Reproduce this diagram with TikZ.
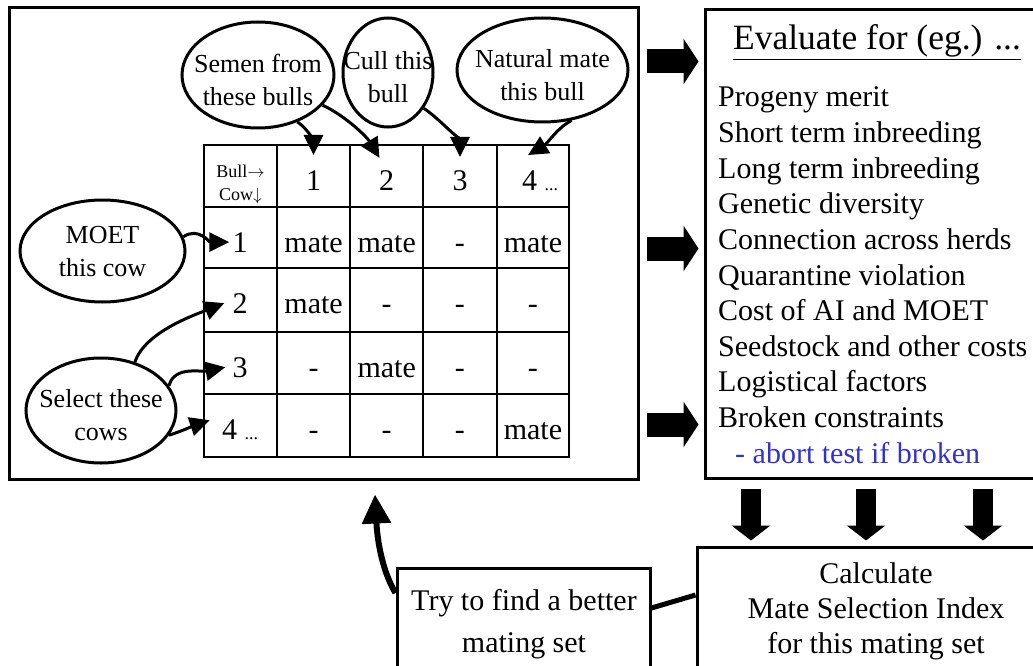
\documentclass[tikz,border=0pt]{standalone}
\usepackage{fontspec}
\setmainfont{Liberation Serif}
\usetikzlibrary{shapes.geometric,arrows.meta,calc}
\definecolor{abortblue}{RGB}{50,50,210}
\newcommand{\bodyfont}{\fontsize{30}{35}\selectfont}
\newcommand{\bubblefont}{\fontsize{26}{33}\selectfont}
\newcommand{\headfont}{\fontsize{18}{23}\selectfont}
\newcommand{\more}{\ {\headfont...}}
\tikzset{
  box/.style={draw,line width=3pt,inner sep=0pt},
  bubble/.style={ellipse,draw,line width=3pt,inner xsep=-16pt,inner ysep=0pt,text height=61pt,align=center,font=\bubblefont},
  pointer/.style={line width=3pt,-{Triangle[length=20pt,width=19pt]}},
  fatright/.style={line width=24pt,-{Triangle[length=15pt,width=45pt]}},
  fatdown/.style={line width=20pt,-{Triangle[length=15pt,width=38pt]}},
  cell/.style={anchor=base,font=\bodyfont,inner sep=0pt},
}
\begin{document}
\begin{tikzpicture}[x=1pt,y=-1pt]
  \useasboundingbox (0,0) rectangle (1033,666);
  \clip (0,0) rectangle (1033,666);
  % boxes
  \node[box,minimum width=629pt,minimum height=471pt] (mainbox) at (323.5,243.5) {};
  \node[box,minimum width=340pt,minimum height=468pt] (evalbox) at (875,244) {};
  \node[box,minimum width=348pt,minimum height=153pt] (calcbox) at (871,623.5) {};
  \node[box,minimum width=253pt,minimum height=132pt] (trybox) at (523.5,634) {};
  % mating table
  \foreach \x in {204,277,350,423,497,569}
    \draw[line width=2.5pt,line cap=rect] (\x,145) -- (\x,457);
  \foreach \y in {145,207,268,332,394,457}
    \draw[line width=2.5pt,line cap=rect] (204,\y) -- (569,\y);
  \node[font=\headfont,align=center,inner sep=0pt] (corner) at (240.5,184) {Bull$\rightarrow$\\Cow$\downarrow$};
  \foreach \t/\x [count=\c] in {1/313.5,2/386.5,3/460,4\more/540}
    \node[cell] (h\c) at (\x,190) {\t};
  \foreach \t/\y [count=\r] in {1/252,2/313,3/377,4\more/439}
    \node[cell] (r\r) at (240,\y) {\t};
  \foreach \t [count=\c] in {mate,mate,-,mate}
    \node[cell] (m1\c) at (240.5+73.1*\c,252) {\t};
  \foreach \t [count=\c] in {mate,-,-,-}
    \node[cell] (m2\c) at (240.5+73.1*\c,313) {\t};
  \foreach \t [count=\c] in {-,mate,-,-}
    \node[cell] (m3\c) at (240.5+73.1*\c,377) {\t};
  \foreach \t [count=\c] in {-,-,-,mate}
    \node[cell] (m4\c) at (240.5+73.1*\c,439) {\t};
  % callouts
  \node[bubble,minimum width=152pt,minimum height=106pt] (semen) at (258,75) {Semen from\\these bulls};
  \node[bubble,minimum width=90pt,minimum height=109pt] (cull) at (388,72.5) {Cull this\\bull};
  \node[bubble,minimum width=171pt,minimum height=104pt] (natmate) at (542.5,70) {Natural mate\\this bull};
  \node[bubble,text height=51pt,minimum width=165pt,minimum height=102pt] (moet) at (102.5,251) {MOET\\this cow};
  \node[bubble,minimum width=150pt,minimum height=105pt] (select) at (101,410.5) {Select these\\cows};
  \draw[pointer] (semen.-50) .. controls +(12,8) and +(0,-12) .. ([yshift=15pt]h1.north);
  \draw[pointer] (semen.-25) .. controls +(25,12) and +(-12,-20) .. ([xshift=-7pt,yshift=12pt]h2.north);
  \draw[pointer] (cull.-45) .. controls +(15,10) and +(0,-15) .. ([yshift=13pt]h3.north);
  \draw[pointer] (natmate.-60) .. controls +(-15,8) and +(20,-12) .. ([xshift=-12pt,yshift=15pt]h4.north);
  \draw[pointer] (moet.10) .. controls +(15,-10) and +(-20,0) .. ([xshift=-3pt]r1.west);
  \draw[pointer] (select.55) .. controls +(10,-30) and +(-30,12) .. ([xshift=-8pt]r2.west);
  \draw[pointer] (select.20) .. controls +(5,-20) and +(-25,5) .. ([xshift=-7pt]r3.west);
  \draw[pointer] (select.-20) .. controls +(15,-5) and +(-15,5) .. ([xshift=-12pt,yshift=9pt]r4.west);
  % evaluation list
  \node[font=\fontsize{35.5}{40}\selectfont,anchor=base,inner sep=0pt] (evtitle) at (877,50) {\underline{Evaluate for (eg.) ...}};
  \foreach \t [count=\i from 0] in {Progeny merit,Short term inbreeding,Long term inbreeding,Genetic diversity,Connection across herds,Quarantine violation,Cost of AI and MOET,Seedstock and other costs,Logistical factors,Broken constraints}
    \node[cell,anchor=base west] (ev\i) at (718,107+35.6*\i) {\t};
  \node[cell,anchor=base west,text=abortblue] (abort) at (735,463) {- abort test if broken};
  % index and search
  \node[font=\fontsize{30}{35}\selectfont,align=center,inner sep=0pt] (calc) at (876,611) {Calculate\\Mate Selection Index\\for this mating set};
  \node[font=\fontsize{30}{42}\selectfont,align=center,inner sep=0pt] (try) at (524,624) {Try to find a better\\mating set};
  % block arrows
  \foreach \dy in {182pt,-5pt,-181pt}
    \draw[fatright] ([xshift=7pt,yshift=\dy]mainbox.east) -- ([xshift=-5pt,yshift=\dy]mainbox.east -| evalbox.west);
  \foreach \dx in {-124pt,-9pt,108pt}
    \draw[fatdown] ([xshift=\dx,yshift=-9pt]evalbox.south) -- ([xshift=\dx,yshift=5pt]evalbox.south |- calcbox.north);
  \draw[line width=5pt] ([yshift=28.5pt]calcbox.west) -- ([yshift=26pt]trybox.east);
  \draw[line width=6pt,-{Triangle[length=29pt,width=28pt]}] ([yshift=41pt]trybox.west) .. controls +(-15,-25) and +(2,40) .. ([xshift=51.5pt,yshift=-14pt]mainbox.south);
\end{tikzpicture}
\end{document}
